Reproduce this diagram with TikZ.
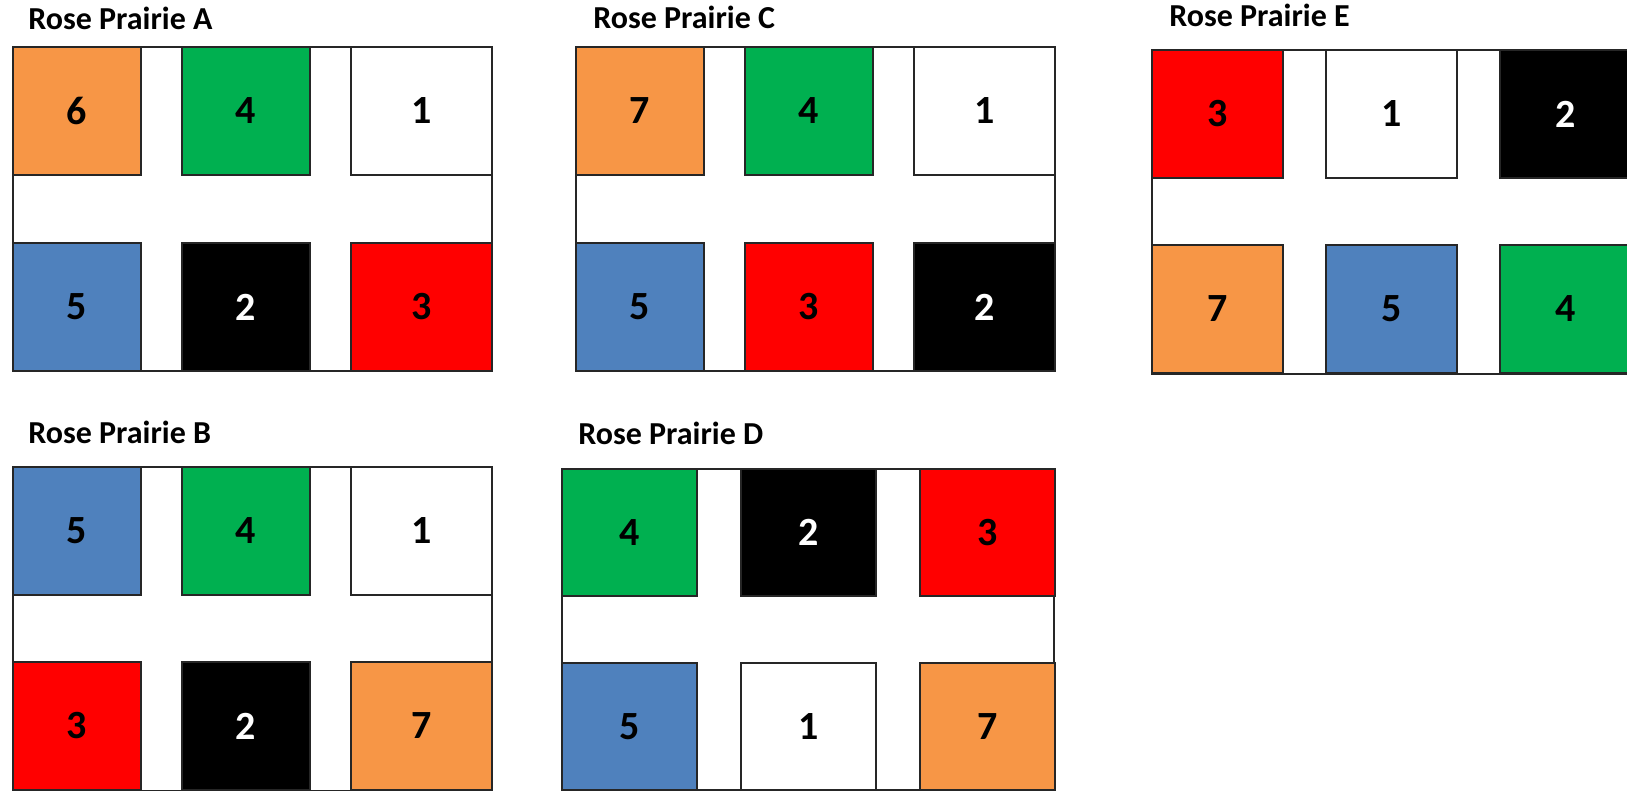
\documentclass[tikz,border=0pt]{standalone}
\usepackage{fontspec}
\setmainfont{Carlito}
\usepackage{tikz}
\usetikzlibrary{positioning}
\definecolor{edge}{HTML}{262626}
\definecolor{orangeP}{HTML}{F79646}
\definecolor{greenP}{HTML}{00B050}
\definecolor{blueP}{HTML}{4F81BD}
\definecolor{redP}{HTML}{FF0000}
\tikzset{
	field/.style={
		draw=edge, line width=1pt, anchor=north west,
		minimum width=239.5pt, minimum height=162pt, inner sep=0pt
	},
	plot/.style={
		draw=edge, line width=1pt, anchor=north west,
		minimum width=64pt, minimum height=64pt, inner sep=0pt,
		text=black, font=\bfseries\fontsize{20}{20}\selectfont
	},
	wide/.style={minimum width=70.5pt},
	caption/.style={
		anchor=base west, inner sep=0pt,
		font=\bfseries\fontsize{16}{19}\selectfont
	}
}

\begin{document}
\begin{tikzpicture}[x=0.5pt, y=-0.5pt]
	\fill[white] (0,0) rectangle (1627,791);
	\useasboundingbox (0,0) rectangle (1627,791);
	% Rose Prairie A
	\node[caption] (titleA) at (28,30) {Rose Prairie A};
	\node[field] (prairieA) at (12,46) {};
	\node[plot, fill=orangeP] (A6) at (12,46) {6};
	\node[plot, fill=greenP] (A4) at (181,46) {4};
	\node[plot, wide, fill=white] (A1) at (350,46) {1};
	\node[plot, fill=blueP] (A5) at (12,242) {5};
	\node[plot, fill=black, text=white] (A2) at (181,242) {2};
	\node[plot, wide, fill=redP] (A3) at (350,242) {3};
	% Rose Prairie B
	\node[caption] (titleB) at (28,443) {Rose Prairie B};
	\node[field] (prairieB) at (12,466) {};
	\node[plot, fill=blueP] (B5) at (12,466) {5};
	\node[plot, fill=greenP] (B4) at (181,466) {4};
	\node[plot, wide, fill=white] (B1) at (350,466) {1};
	\node[plot, fill=redP] (B3) at (12,661) {3};
	\node[plot, fill=black, text=white] (B2) at (181,661) {2};
	\node[plot, wide, fill=orangeP] (B7) at (350,661) {7};
	% Rose Prairie C
	\node[caption] (titleC) at (593,29) {Rose Prairie C};
	\node[field] (prairieC) at (575,46) {};
	\node[plot, fill=orangeP] (C7) at (575,46) {7};
	\node[plot, fill=greenP] (C4) at (744,46) {4};
	\node[plot, wide, fill=white] (C1) at (913,46) {1};
	\node[plot, fill=blueP] (C5) at (575,242) {5};
	\node[plot, fill=redP] (C3) at (744,242) {3};
	\node[plot, wide, fill=black, text=white] (C2) at (913,242) {2};
	% Rose Prairie D
	\begin{scope}[plot/.append style={minimum width=67.5pt, minimum height=63.5pt}]
		\node[caption] (titleD) at (578,444) {Rose Prairie D};
		\node[field, minimum width=246pt, minimum height=160.5pt] (prairieD) at (561,468) {};
		\node[plot, fill=greenP] (D4) at (561,468) {4};
		\node[plot, fill=black, text=white] (D2) at (740,468) {2};
		\node[plot, fill=redP] (D3) at (919,468) {3};
		\node[plot, fill=blueP] (D5) at (561,662) {5};
		\node[plot, fill=white] (D1) at (740,662) {1};
		\node[plot, fill=orangeP] (D7) at (919,662) {7};
	\end{scope}
	% Rose Prairie E
	\begin{scope}[plot/.append style={minimum width=65.5pt}]
		\node[caption] (titleE) at (1169,27) {Rose Prairie E};
		\node[field] (prairieE) at (1151,49) {};
		\node[plot, fill=redP] (E3) at (1151,49) {3};
		\node[plot, fill=white] (E1) at (1325,49) {1};
		\node[plot, fill=black, text=white] (E2) at (1499,49) {2};
		\node[plot, fill=orangeP] (E7) at (1151,244) {7};
		\node[plot, fill=blueP] (E5) at (1325,244) {5};
		\node[plot, fill=greenP] (E4) at (1499,244) {4};
	\end{scope}
\end{tikzpicture}
\end{document}
